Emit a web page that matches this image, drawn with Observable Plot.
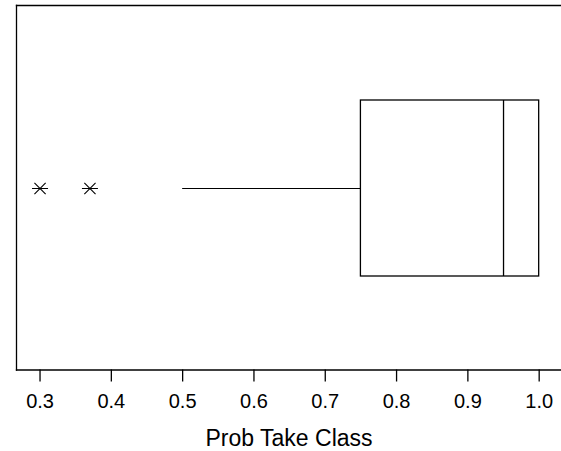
<!DOCTYPE html>
<html>
<head>
<meta charset="utf-8">
<script src="https://cdn.jsdelivr.net/npm/d3@7"></script>
<script src="https://cdn.jsdelivr.net/npm/@observablehq/plot@0.6"></script>
<style>
  html, body { margin: 0; padding: 0; background: #fff; }
  svg { font-family: "Liberation Sans", Arial, sans-serif; }
</style>
</head>
<body>
<div id="chart"></div>
<script>
// ---- data ----
const category = ["Prob Take Class"];
const q1 = [0.75];
const median = [0.95];
const q3 = [1.0];
const whiskerLow = [0.5];
const whiskerHigh = [1.0];
const outliers = [0.30, 0.37];
const tickValues = [0.3, 0.4, 0.5, 0.6, 0.7, 0.8, 0.9, 1.0];
const axisLabel = "Prob Take Class";

const box = category.map((c, i) => ({
  cat: c, q1: q1[i], med: median[i], q3: q3[i], lo: whiskerLow[i], hi: whiskerHigh[i]
}));
const outs = outliers.map(v => ({ cat: category[0], v }));

// asterisk-like symbol: horizontal bar plus an X
const starSymbol = {
  draw(context, size) {
    const r = Math.sqrt(size / Math.PI);
    const dx = 0.7 * r, dy = 0.7 * r;
    context.moveTo(-r, 0); context.lineTo(r, 0);
    context.moveTo(-dx, -dy); context.lineTo(dx, dy);
    context.moveTo(-dx, dy); context.lineTo(dx, -dy);
  }
};

const chart = Plot.plot({
  width: 561,
  height: 451,
  marginLeft: 16,
  marginRight: 0,
  marginTop: 5,
  marginBottom: 81.5,
  style: { fontFamily: '"Liberation Sans", Arial, sans-serif', color: "black", background: "white" },
  x: { domain: [0.267, 1.0313] },
  y: { domain: category, padding: 0.35, axis: null },
  marks: [
    Plot.frame({ anchor: "left", stroke: "black", strokeWidth: 1.3 }),
    Plot.frame({ anchor: "top", stroke: "black", strokeWidth: 1.3 }),
    Plot.frame({ anchor: "bottom", stroke: "black", strokeWidth: 1.3 }),
    Plot.ruleY(box, { y: "cat", x1: "lo", x2: "q1", stroke: "black", strokeWidth: 1.2 }),
    Plot.ruleY(box, { y: "cat", x1: "q3", x2: "hi", stroke: "black", strokeWidth: 1.2 }),
    Plot.barX(box, { y: "cat", x1: "q1", x2: "q3", fill: "white", stroke: "black", strokeWidth: 1.3 }),
    Plot.tickX(box, { y: "cat", x: "med", stroke: "black", strokeWidth: 1.3 }),
    Plot.dot(outs, { x: "v", y: "cat", symbol: starSymbol, r: 8, fill: "none", stroke: "black", strokeWidth: 1.1 }),
    Plot.axisX({
      ticks: tickValues,
      tickFormat: d => d.toFixed(1),
      tickSize: 12,
      tickPadding: 12,
      fontSize: 20,
      label: null,
      stroke: "black",
      strokeWidth: 1.3
    }),
    Plot.text([axisLabel], { text: d => d, frameAnchor: "bottom", lineAnchor: "bottom", dy: 76, fontSize: 23, fill: "black" })
  ]
});
document.getElementById("chart").appendChild(chart);
</script>
</body>
</html>
